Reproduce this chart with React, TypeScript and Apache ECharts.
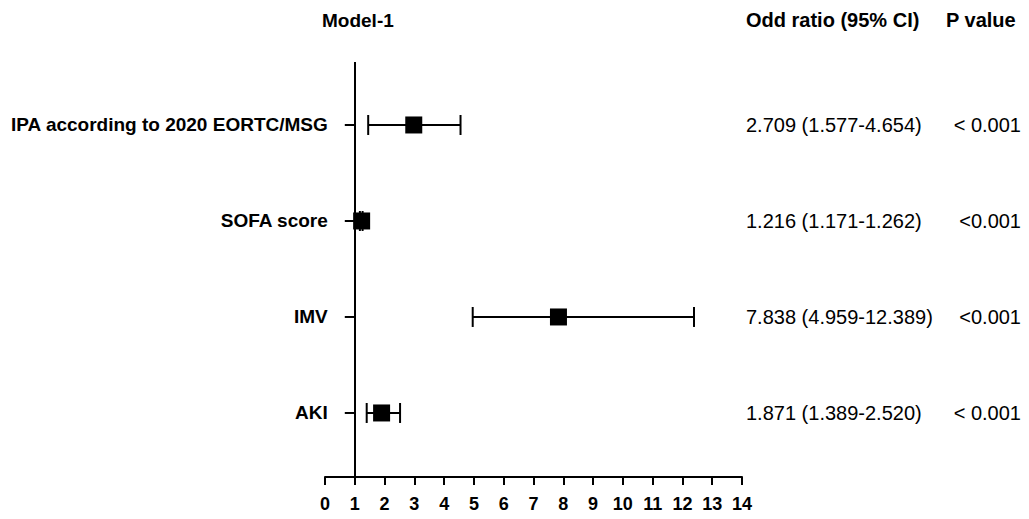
import React, { useEffect, useRef } from "react";
import * as echarts from "echarts";

const labels = ["IPA according to 2020 EORTC/MSG", "SOFA score", "IMV", "AKI"];
const rowPos = [4, 3, 2, 1];
const estimates = [2.98, 1.23, 7.838, 1.9];
const lows = [1.45, 1.171, 4.959, 1.4];
const highs = [4.55, 1.262, 12.389, 2.52];
const orTexts = ["2.709 (1.577-4.654)", "1.216 (1.171-1.262)", "7.838 (4.959-12.389)", "1.871 (1.389-2.520)"];
const pTexts = ["< 0.001", "<0.001", "<0.001", "< 0.001"];
const xTicks = [0, 14, 1];

const FONT = "'Liberation Sans', Arial, Helvetica, sans-serif";

export default function App() {
  const ref = useRef<HTMLDivElement>(null);
  useEffect(() => {
    if (!ref.current) return;
    const chart = echarts.init(ref.current, null, { renderer: "svg" });
    const data = labels.map((l, i) => [estimates[i], lows[i], highs[i], rowPos[i], i]);
    const option: any = {
      animation: false,
      backgroundColor: "#ffffff",
      grid: { left: 325, right: 287, top: 62, bottom: 42, containLabel: false },
      xAxis: {
        type: "value",
        min: xTicks[0],
        max: xTicks[1],
        interval: xTicks[2],
        axisLine: { show: true, lineStyle: { color: "#000", width: 2 } },
        axisTick: { show: true, length: 8, inside: false, lineStyle: { color: "#000", width: 2 } },
        axisLabel: { color: "#000", fontWeight: "bold", fontSize: 18, fontFamily: FONT, margin: 18 },
        splitLine: { show: false },
      },
      yAxis: { type: "value", min: 0.333, max: 4.656, show: false },
      graphic: [
        { type: "text", left: 322, top: 11, style: { text: "Model-1", font: `bold 19px ${FONT}`, fill: "#000" } },
        { type: "text", left: 746, top: 10, style: { text: "Odd ratio (95% CI)", font: `bold 20px ${FONT}`, fill: "#000" } },
        { type: "text", left: 946, top: 10, style: { text: "P value", font: `bold 20px ${FONT}`, fill: "#000" } },
      ],
      series: [
        {
          type: "custom",
          clip: false,
          data,
          renderItem: (params: any, api: any) => {
            const est = api.value(0);
            const lo = api.value(1);
            const hi = api.value(2);
            const yv = api.value(3);
            const idx = api.value(4);
            const pEst = api.coord([est, yv]);
            const pLo = api.coord([lo, yv]);
            const pHi = api.coord([hi, yv]);
            const pOne = api.coord([1, yv]);
            const y = pEst[1];
            const ls = { stroke: "#000", lineWidth: 2 };
            const cap = 10;
            const sq = 17;
            return {
              type: "group",
              children: [
                { type: "line", shape: { x1: pOne[0] - 10, y1: y, x2: pOne[0], y2: y }, style: ls },
                { type: "line", shape: { x1: pLo[0], y1: y, x2: pHi[0], y2: y }, style: ls },
                { type: "line", shape: { x1: pLo[0], y1: y - cap, x2: pLo[0], y2: y + cap }, style: ls },
                { type: "line", shape: { x1: pHi[0], y1: y - cap, x2: pHi[0], y2: y + cap }, style: ls },
                { type: "rect", shape: { x: pEst[0] - sq / 2, y: y - sq / 2, width: sq, height: sq }, style: { fill: "#000" } },
                {
                  type: "text",
                  style: { text: labels[idx], x: pOne[0] - 27, y, align: "right", verticalAlign: "middle", font: `bold 19px ${FONT}`, fill: "#000" },
                },
                {
                  type: "text",
                  style: { text: orTexts[idx], x: 746, y, align: "left", verticalAlign: "middle", font: `20px ${FONT}`, fill: "#000" },
                },
                {
                  type: "text",
                  style: { text: pTexts[idx], x: 1021, y, align: "right", verticalAlign: "middle", font: `20px ${FONT}`, fill: "#000" },
                },
              ],
            };
          },
          markLine: {
            silent: true,
            symbol: "none",
            label: { show: false },
            lineStyle: { color: "#000", width: 2, type: "solid" },
            data: [{ xAxis: 1 }],
          },
        },
      ],
    };
    chart.setOption(option);
    return () => chart.dispose();
  }, []);
  return <div ref={ref} style={{ position: "fixed", left: 0, top: 0, width: 1029, height: 519, background: "#fff" }} />;
}
